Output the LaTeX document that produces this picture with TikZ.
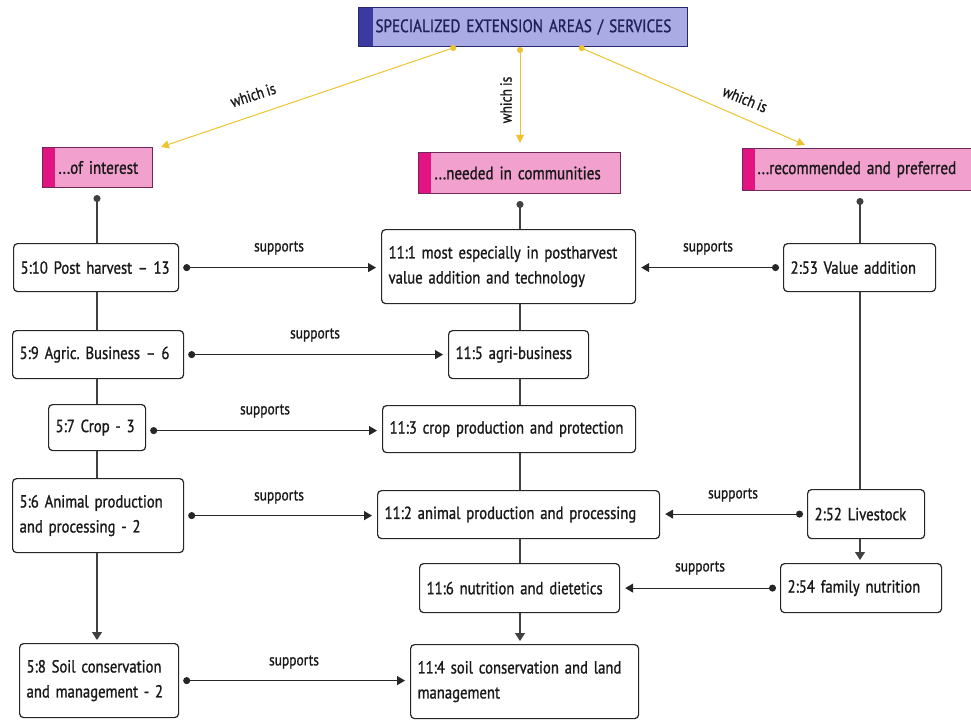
\documentclass[tikz,border=0pt]{standalone}
\usepackage{fontspec}
\setmainfont{PT Sans}[FakeStretch=0.84, FakeBold=1.1, WordSpace=0.85]
\usetikzlibrary{arrows.meta,calc}
\definecolor{hdrfill}{RGB}{170,170,228}
\definecolor{hdrstrip}{RGB}{58,58,160}
\definecolor{hdrline}{RGB}{40,40,110}
\definecolor{catfill}{RGB}{242,160,206}
\definecolor{catstrip}{RGB}{226,20,130}
\definecolor{catline}{RGB}{110,40,90}
\definecolor{yel}{RGB}{236,196,50}
\definecolor{txt}{RGB}{25,25,25}
\tikzset{
  box/.style={draw=black!85, line width=1.2pt, rounded corners=4pt, fill=white,
    align=left, inner xsep=7pt, inner ysep=0pt, anchor=north west,
    font=\fontsize{17.5}{25}\selectfont, text=txt},
  catbox/.style={draw=catline, line width=1pt, fill=catfill, anchor=north west,
    align=left, inner xsep=0pt, inner ysep=0pt, font=\fontsize{18}{20}\selectfont, text=black!90,
    path picture={\fill[catstrip] (path picture bounding box.south west) rectangle ([xshift=12pt]path picture bounding box.north west);}},
  hdrbox/.style={draw=hdrline, line width=1pt, fill=hdrfill, anchor=north west,
    align=left, inner xsep=0pt, inner ysep=0pt, font=\fontsize{18}{20}\selectfont, text=hdrline!80!black,
    path picture={\fill[hdrstrip] (path picture bounding box.south west) rectangle ([xshift=14pt]path picture bounding box.north west);}},
  lbl/.style={font=\fontsize{16}{18}\selectfont, text=txt, inner sep=0pt},
  sup/.style={line width=1.1pt, draw=black!85, {Circle[length=7pt]}-{Triangle[length=8pt,width=9pt]}, shorten <=4pt, shorten >=5pt},
  spine/.style={line width=1.1pt, draw=black!75},
  spinedot/.style={line width=1.1pt, draw=black!75, {Circle[length=7pt]}-, shorten <=7pt},
  spinearr/.style={line width=1.1pt, draw=black!75, -{Triangle[length=8pt,width=10pt]}, shorten >=3pt},
  yarr/.style={line width=1pt, draw=yel, {Circle[length=6pt]}-{Triangle[length=8pt,width=8pt]}},
}
\frenchspacing
\begin{document}
\begin{tikzpicture}[x=1pt,y=-1pt]
\useasboundingbox[fill=white] (0,0) rectangle (971,722);

% header
\node[hdrbox, text width=329pt, minimum height=39pt] (hdr) at (358,7) {\hspace*{17pt}SPECIALIZED EXTENSION AREAS / SERVICES};

% categories
\node[catbox, text width=110pt, minimum height=40pt] (cat1) at (42,147) {\hspace*{16pt}...of interest};
\node[catbox, text width=202pt, minimum height=41pt] (cat2) at (418,152) {\hspace*{16pt}...needed in communities};
\node[catbox, text width=245pt, minimum height=42pt] (cat3) at (742,148) {\hspace*{15pt}...recommended and preferred};

% spine coordinates
\coordinate (lx) at (97,0);
\coordinate (mx) at (520,0);
\coordinate (rx) at (860,0);

% left column
\node[box, text width=151pt, minimum height=48pt] (n510) at (13,243) {5:10 Post harvest -- 13};
\node[box, text width=157pt, minimum height=48pt] (n59) at (12,330) {5:9 Agric. Business -- 6};
\node[box, text width=83pt, minimum height=46pt] (n57) at (48,404) {5:7 Crop - 3};
\node[box, text width=157pt, minimum height=74pt] (n56) at (12,478) {5:6 Animal production\\and processing - 2};
\node[box, text width=145pt, minimum height=74pt] (n58) at (19,643) {5:8 Soil conservation\\and management - 2};

% middle column
\node[box, text width=240pt, minimum height=74pt] (n111) at (381,229) {11:1 most especially in postharvest\\value addition and technology};
\node[box, text width=126pt, minimum height=48pt] (n115) at (448,330) {11:5 agri-business};
\node[box, text width=239pt, minimum height=47pt] (n113) at (382,405) {11:3 crop production and protection};
\node[box, text width=268pt, minimum height=48pt] (n112) at (377,490) {11:2 animal production and processing};
\node[box, text width=186pt, minimum height=49pt] (n116) at (419,563) {11:6 nutrition and dietetics};
\node[box, text width=214pt, minimum height=74pt] (n114) at (410,644) {11:4 soil conservation and land\\management};

% right column
\node[box, text width=138pt, minimum height=48pt] (n253) at (783,243) {2:53 Value addition};
\node[box, text width=103pt, minimum height=49pt] (n252) at (807,489) {2:52 Livestock};
\node[box, text width=147pt, minimum height=49pt] (n254) at (780,563) {2:54 family nutrition};

% yellow "which is" connectors
\draw[yarr] ([xshift=-67pt]hdr.south) -- ([xshift=8pt,yshift=0pt]cat1.north east);
\draw[yarr] ([xshift=0pt]hdr.south -| mx) -- ([yshift=9pt]cat2.north -| mx);
\draw[yarr] ([xshift=56pt]hdr.south) -- ([xshift=63pt,yshift=3pt]cat3.north west);
\node[lbl, rotate=18] at (253,95) {which is};
\node[lbl, rotate=90] at (506,100) {which is};
\node[lbl, rotate=-22] at (745,99) {which is};

% left spine
\draw[spinedot] (cat1.south -| lx) -- (n510.north -| lx);
\draw[spine] (n510.south -| lx) -- (n59.north -| lx);
\draw[spine] (n59.south -| lx) -- (n57.north -| lx);
\draw[spine] (n57.south -| lx) -- (n56.north -| lx);
\draw[spinearr] (n56.south -| lx) -- (n58.north -| lx);

% middle spine
\draw[spinedot] (cat2.south -| mx) -- (n111.north -| mx);
\draw[spine] (n111.south -| mx) -- (n115.north -| mx);
\draw[spine] (n115.south -| mx) -- (n113.north -| mx);
\draw[spine] (n113.south -| mx) -- (n112.north -| mx);
\draw[spine] (n112.south -| mx) -- (n116.north -| mx);
\draw[spinearr] (n116.south -| mx) -- (n114.north -| mx);

% right spine
\draw[spinedot] (cat3.south -| rx) -- (n253.north -| rx);
\draw[spine] (n253.south -| rx) -- (n252.north -| rx);
\draw[spinearr] (n252.south -| rx) -- (n254.north -| rx);

% supports connectors
\draw[sup] (n510.east) -- (n510.east -| n111.west);
\draw[sup] (n59.east) -- (n59.east -| n115.west);
\draw[sup] ([yshift=-3pt]n57.east) -- ([yshift=-3pt]n57.east -| n113.west);
\draw[sup] (n56.east) -- (n56.east -| n112.west);
\draw[sup] (n58.east) -- (n58.east -| n114.west);
\draw[sup] (n253.west) -- (n253.west -| n111.east);
\draw[sup] (n252.west) -- (n252.west -| n112.east);
\draw[sup] (n254.west) -- (n254.west -| n116.east);

\node[lbl] at (279,248) {supports};
\node[lbl] at (315,335) {supports};
\node[lbl] at (265,411) {supports};
\node[lbl] at (279,497) {supports};
\node[lbl] at (294,662) {supports};
\node[lbl] at (708,248) {supports};
\node[lbl] at (733,495) {supports};
\node[lbl] at (700,568) {supports};
\end{tikzpicture}
\end{document}
